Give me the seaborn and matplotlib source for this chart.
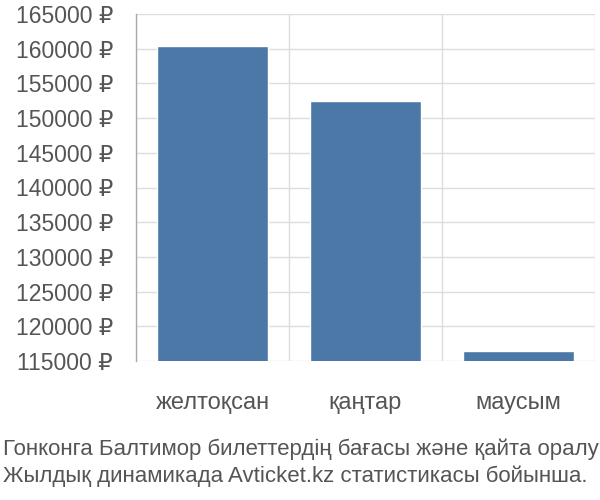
import matplotlib
matplotlib.use("Agg")
import matplotlib.pyplot as plt
import seaborn as sns
import pandas as pd
from matplotlib.ticker import FixedLocator, FuncFormatter

months = ["желтоқсан", "қаңтар", "маусым"]
prices = [160350, 152450, 116400]
y_ticks = [115000, 120000, 125000, 130000, 135000, 140000, 145000, 150000, 155000, 160000, 165000]
caption = ["Гонконга Балтимор билеттердің бағасы және қайта оралу",
           "Жылдық динамикада Avticket.kz статистикасы бойынша."]

df = pd.DataFrame({"month": months, "price": prices})

sns.set_style("white")
plt.rcParams["font.family"] = ["Liberation Sans", "DejaVu Sans"]
text_color = "#555555"
grid_color = "#dddddd"

fig = plt.figure(figsize=(6, 5), dpi=100)
ax = fig.add_axes([136 / 600, 139 / 500, 459 / 600, 347 / 500])

sns.barplot(data=df, x="month", y="price", color="#4c78a8", saturation=1,
            width=0.72, ax=ax, zorder=3)

ax.set_ylim(115000, 165000)
ax.set_xlim(-0.5, 2.5)
ax.set_yticks(y_ticks)
ax.yaxis.set_major_formatter(FuncFormatter(lambda v, p: f"{int(v)} ₽"))
ax.grid(axis="y", color=grid_color, lw=1, zorder=0)
ax.xaxis.set_minor_locator(FixedLocator([-0.5, 0.5, 1.5, 2.5]))
ax.grid(axis="x", which="minor", color=grid_color, lw=1, zorder=0)

ax.tick_params(axis="y", length=16, width=1, color=grid_color, pad=0.5,
               labelsize=16.5, labelcolor=text_color)
ax.tick_params(axis="x", which="major", length=0, pad=22.5,
               labelsize=17, labelcolor=text_color)
ax.tick_params(axis="x", which="minor", length=14.5, width=1, color=grid_color)

for s in ["top", "right", "bottom"]:
    ax.spines[s].set_visible(False)
ax.spines["left"].set_color("#aaaaaa")
ax.spines["left"].set_linewidth(1)
ax.set_xlabel("")
ax.set_ylabel("")

fig.text(3 / 600, 1 - 455 / 500, caption[0], ha="left", va="baseline",
         fontsize=16, color=text_color)
fig.text(3 / 600, 1 - 482 / 500, caption[1], ha="left", va="baseline",
         fontsize=16, color=text_color)

fig.savefig("out.png", dpi=100)
